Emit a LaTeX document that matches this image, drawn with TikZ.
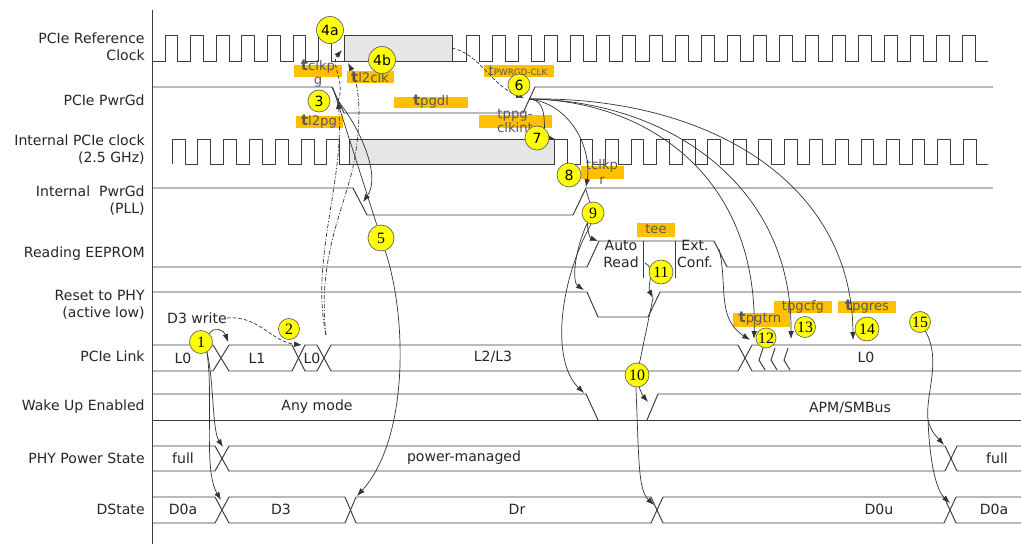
\documentclass[tikz,border=0pt]{standalone}
\usepackage{fontspec}
\setmainfont{DejaVu Sans}
\newfontfamily\numserif{Liberation Serif}
\usetikzlibrary{arrows.meta}
\definecolor{dotyellow}{RGB}{255,255,0}
\definecolor{torange}{RGB}{255,192,0}
\definecolor{clkgray}{RGB}{230,230,230}
\definecolor{sigline}{RGB}{60,60,60}
\newcommand{\tbold}{{\fontsize{8.5}{8.5}\selectfont\bfseries t}}
\pgfdeclarelayer{front}
\pgfsetlayers{main,front}

\begin{document}
\begin{tikzpicture}[x=0.02cm,y=-0.02cm,
    sig/.style={sigline,line width=0.55pt},
    cline/.style={black!80,line width=0.4pt},
    conn/.style={cline,-{Latex[length=4.5pt,width=3.2pt]}},
    dconn/.style={conn,dash pattern=on 2pt off 1.2pt},
    ddconn/.style={conn,dash pattern=on 2.5pt off 1pt on 0.6pt off 1pt},
    signame/.style={font=\fontsize{8}{9.7}\selectfont,text=black!85,align=right,anchor=east,inner sep=0pt},
    busval/.style={font=\fontsize{8}{9.7}\selectfont,text=black!85,align=center,inner sep=0pt},
    numdot/.style={circle,draw=black!60,fill=dotyellow,inner sep=0pt,minimum size=#1,font=\fontsize{8}{8}\selectfont},
    numdot/.default=0.44cm,
    serifnum/.style={font=\numserif\fontsize{9}{9}\selectfont},
    tbox/.style={fill=torange},
    tlab/.style={font=\fontsize{7.5}{8}\selectfont,text=black!65,align=center,inner sep=0pt}]
  \useasboundingbox (0,0) rectangle (1021,544);
  \draw[sig] (152,10) -- (152,544);
  % signal names
  \node[signame] (lblref) at (145,47) {PCIe Reference\\Clock};
  \node[signame] (lblpwrgd) at (145,100) {PCIe PwrGd};
  \node[signame] (lblintclk) at (145,150) {Internal PCIe clock\\(2.5 GHz)};
  \node[signame] (lblintpg) at (145,201) {Internal~~PwrGd\\(PLL)};
  \node[signame] (lbleeprom) at (145,254) {Reading EEPROM};
  \node[signame] (lblreset) at (145,305) {Reset to PHY\\(active low)};
  \node[signame] (lbllink) at (145,356) {PCIe Link};
  \node[signame] (lblwake) at (145,407) {Wake Up Enabled};
  \node[signame] (lblphy) at (145,458) {PHY Power State};
  \node[signame] (lbldstate) at (145,509) {DState};
  % reference clock
  \draw[sig] (152,61) \foreach \k in {0,...,6}{ -- ({165+25.6*\k},61) -- ({165+25.6*\k},35) -- ({177.8+25.6*\k},35) -- ({177.8+25.6*\k},61)} -- (344,61);
  \draw[sig,fill=clkgray] (344,35) rectangle (452,61);
  \draw[sig] (452,61) \foreach \k in {0,...,19}{ -- ({466+26.15*\k},61) -- ({466+26.15*\k},35) -- ({479+26.15*\k},35) -- ({479+26.15*\k},61)} -- (988,61);
  % PwrGd
  \draw[sig] (152,87) -- (332,87) -- (344,113) -- (523,113) -- (535,87) -- (993,87);
  % internal clock
  \draw[sig] (172,164) \foreach \k in {0,...,6}{ -- ({172+25.8*\k},164) -- ({172+25.8*\k},139) -- ({185+25.8*\k},139) -- ({185+25.8*\k},164)} -- (349,164);
  \draw[sig,fill=clkgray] (349,139) rectangle (554,164);
  \draw[sig] (554,139) -- (567,139) -- (567,164) \foreach \k in {0,...,15}{ -- ({580+25.55*\k},164) -- ({580+25.55*\k},139) -- ({592.8+25.55*\k},139) -- ({592.8+25.55*\k},164)} -- (988,164);
  % internal PwrGd
  \draw[sig] (152,188) -- (353,188) -- (367,215) -- (573,215) -- (586,188) -- (993,188);
  % EEPROM
  \draw[sig] (152,267) -- (587,267) -- (599,241) -- (714,241) -- (727,267) -- (1021,267);
  \draw[sig] (643,241) -- (643,278) (675,241) -- (675,278);
  \node[busval] (autord) at (621,254) {Auto\\Read};
  \node[busval] (extconf) at (695,254) {Ext.\\Conf.};
  % reset
  \draw[sig] (152,292) -- (587,292) -- (598,317) -- (648,317) -- (660,292) -- (1021,292);
  % PCIe link
  \draw[sig] (152,345) -- (213,345) -- (229,371) -- (292,371) -- (305,345) -- (317,345) -- (331,371) -- (738,371) -- (752,345) -- (1021,345);
  \draw[sig] (152,371) -- (213,371) -- (229,345) -- (292,345) -- (305,371) -- (317,371) -- (331,345) -- (738,345) -- (752,371) -- (1021,371);
  \draw[sig] (763,348) -- (759,360) -- (765,370) (775,348) -- (771,360) -- (777,370) (788,348) -- (784,360) -- (790,370);
  \node[busval] (lk1) at (183,358) {L0};
  \node[busval] (lk2) at (257,358) {L1};
  \node[busval] (lk3) at (312,358) {L0};
  \node[busval] (lk4) at (493,357) {L2/L3};
  \node[busval] (lk5) at (866,357) {L0};
  \node[busval] (d3w) at (197,318) {D3 write};
  % wake up
  \draw[sig] (152,394) -- (586,394) -- (598,420);
  \draw[sig] (152,420) -- (1021,420);
  \draw[sig] (647,420) -- (658,394) -- (1021,394);
  \node[busval] (wk1) at (317,407) {Any mode};
  \node[busval] (wk2) at (850,408) {APM/SMBus};
  % PHY power
  \draw[sig] (152,446) -- (215,446) -- (229,471) -- (945,471) -- (957,446) -- (1021,446);
  \draw[sig] (152,471) -- (215,471) -- (229,446) -- (945,446) -- (957,471) -- (1021,471);
  \node[busval] (ph1) at (183,458) {full};
  \node[busval] (ph2) at (464,458) {power-managed};
  \node[busval] (ph3) at (997,458) {full};
  % DState
  \draw[sig] (152,497) -- (215,497) -- (229,523) -- (345,523) -- (356,497) -- (651,497) -- (663,523) -- (944,523) -- (956,497) -- (1021,497);
  \draw[sig] (152,523) -- (215,523) -- (229,497) -- (345,497) -- (356,523) -- (651,523) -- (663,497) -- (944,497) -- (956,523) -- (1021,523);
  \node[busval] (ds1) at (183,509) {D0a};
  \node[busval] (ds2) at (281,509) {D3};
  \node[busval] (ds3) at (517,509) {Dr};
  \node[busval] (ds4) at (879,509) {D0u};
  \node[busval] (ds5) at (994,509) {D0a};
  % timing labels
  \fill[tbox] (294,65) rectangle (342,77);
  \fill[tbox] (347,71) rectangle (394,83);
  \fill[tbox] (296,116) rectangle (343,128);
  \fill[tbox] (394,97) rectangle (468,108);
  \fill[tbox] (484,65) rectangle (554,77);
  \fill[tbox] (479,115) rectangle (552,128);
  \fill[tbox] (581,166) rectangle (624,179);
  \fill[tbox] (637,223) rectangle (675,237);
  \fill[tbox] (733,313) rectangle (790,327);
  \fill[tbox] (774,301) rectangle (832,313);
  \fill[tbox] (838,301) rectangle (896,313);
  \node[tlab] (tclkpg) at (318,74) {\tbold clkp\\g};
  \node[tlab] (tltwoclk) at (370,77) {\tbold l2clk};
  \node[tlab] (tltwopg) at (319,122) {\tbold l2pg};
  \node[tlab] (tpgdl) at (431,102) {\tbold pgdl};
  \node[tlab] (tpwrgd) at (518,71) {t{\fontsize{5}{5}\selectfont PWRGD-CLK}};
  \node[tlab] (tppg) at (515,121) {tppg-\\clkint};
  \node[tlab] (tclkpr) at (602,172) {tclkp\\r};
  \node[tlab] (tee) at (656,229) {tee};
  \node[tlab] (tpgtrn) at (760,319) {\tbold pgtrn};
  \node[tlab] (tpgcfg) at (803,307) {tpgcfg};
  \node[tlab] (tpgres) at (867,307) {\tbold pgres};
  % callouts
  \begin{pgfonlayer}{front}
    \node[numdot=0.54cm] (c4a) at (330,30) {4a};
    \node[numdot=0.54cm] (c4b) at (382,60) {4b};
    \node[numdot] (c3) at (319,101) {3};
    \node[numdot] (c6) at (519,85) {6};
    \node[numdot=0.48cm] (c7) at (537,138) {7};
    \node[numdot=0.48cm] (c8) at (569,175) {8};
    \node[numdot,serifnum] (c9) at (593,213) {9};
    \node[numdot=0.52cm,serifnum] (c5) at (381,238) {5};
    \node[numdot=0.48cm,serifnum] (c11) at (661,272) {11};
    \node[numdot=0.48cm,serifnum] (c10) at (637,375) {10};
    \node[numdot=0.46cm,serifnum] (c1) at (201,342) {1};
    \node[numdot=0.42cm,serifnum] (c2) at (289,329) {2};
    \node[numdot=0.40cm,serifnum] (c12) at (766,338) {12};
    \node[numdot=0.42cm,serifnum] (c13) at (805,327) {13};
    \node[numdot=0.48cm,serifnum] (c14) at (867,329) {14};
    \node[numdot=0.42cm,serifnum] (c15) at (920,322) {15};
  \end{pgfonlayer}
  % edges used by the arrows
  \coordinate (pgfall) at (338,101);
  \coordinate (pgrise) at (529,99);
  \coordinate (lzerol) at (326,335);
  \coordinate (iprise) at (586,190);
  \coordinate (rstrise) at (653,298);
  \coordinate (refstop) at (452,48);
  \coordinate (extend) at (719,249);
  \coordinate (teeend) at (645,263);
  \coordinate (split15) at (928,420);
  % arrows
  \draw[dconn] (d3w.east) .. controls (258,315) and (272,342) .. (302,345);
  \draw[conn] (c1.north east) .. controls (214,326) and (224,330) .. (228,342);
  \draw[conn] (c1.-60) .. controls (214,380) and (212,430) .. (223,447);
  \draw[conn] (c1.-60) .. controls (214,400) and (203,470) .. (221,500);
  \draw[ddconn] (lzerol) .. controls (310,260) and (345,180) .. (pgfall);
  \draw[ddconn] (lzerol) .. controls (316,250) and (350,200) .. (356,150) .. controls (362,110) and (358,82) .. (348,63);
  \draw[dconn] (pgfall) .. controls (346,82) and (330,64) .. (342,50);
  \draw[conn] (pgfall) .. controls (358,125) and (382,175) .. (363,202);
  \draw[cline] (333,88) -- (c5);
  \draw[conn] (c5) .. controls (408,320) and (408,440) .. (357,496);
  \draw[dconn] (refstop) .. controls (480,54) and (492,86) .. (524,98);
  \draw[conn] (pgrise) .. controls (552,100) and (540,136) .. (555,139);
  \draw[conn] (pgrise) .. controls (572,104) and (592,150) .. (586,187);
  \draw[conn] (pgrise) .. controls (640,100) and (758,170) .. (754,339);
  \draw[conn] (pgrise) .. controls (662,100) and (792,180) .. (791,339);
  \draw[conn] (pgrise) .. controls (705,96) and (852,180) .. (853,340);
  \draw[cline] (iprise) -- (c9);
  \draw[conn] (c9.-120) .. controls (588,234) and (590,238) .. (598,241);
  \draw[conn] (c9.-120) .. controls (574,252) and (572,282) .. (584,290);
  \draw[conn] (c9.-100) .. controls (560,280) and (550,360) .. (584,393);
  \draw[conn] (teeend) .. controls (656,268) and (647,286) .. (rstrise);
  \draw[cline] (rstrise) -- (c10);
  \draw[conn] (c10.-80) .. controls (641,392) and (643,396) .. (648,402);
  \draw[conn] (c10.-95) .. controls (639,460) and (638,490) .. (654,505);
  \draw[conn] (extend) .. controls (728,285) and (716,318) .. (750,340);
  \draw[cline] (c15) .. controls (942,360) and (925,395) .. (split15);
  \draw[conn] (split15) .. controls (931,432) and (937,437) .. (944,445);
  \draw[conn] (split15) .. controls (930,470) and (938,492) .. (950,503);
\end{tikzpicture}
\end{document}
